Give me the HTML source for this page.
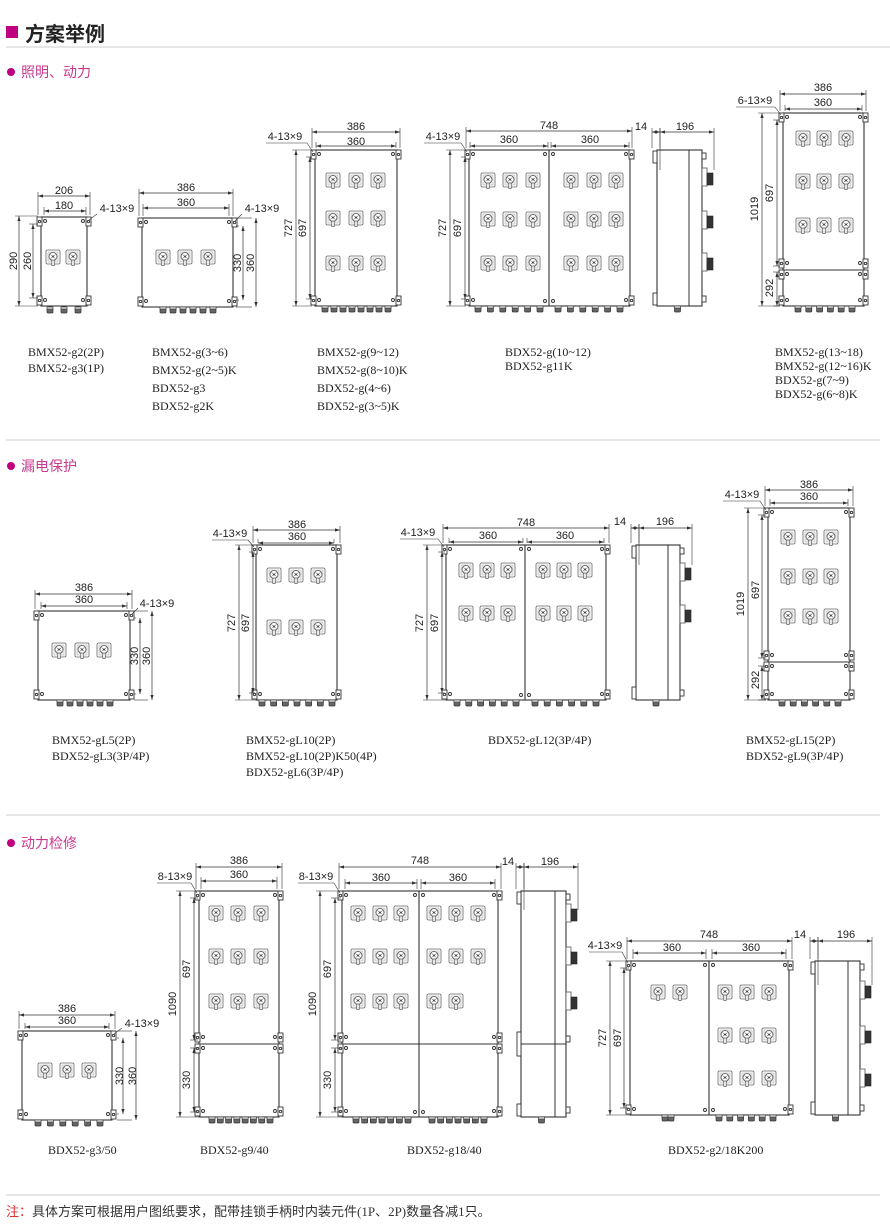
<!DOCTYPE html>
<html><head><meta charset="utf-8">
<style>
html,body{margin:0;padding:0;background:#fff;}
svg{display:block;}
.d{font-family:"Liberation Sans",sans-serif;font-size:11px;fill:#222;}
.l{font-family:"Liberation Serif",serif;font-size:12px;fill:#222;}
.s{font-family:"Liberation Sans","Noto Sans CJK SC",sans-serif;font-size:14px;fill:#c8388f;}
</style></head><body>
<svg id="s" width="890" height="1227" viewBox="0 0 890 1227" xmlns="http://www.w3.org/2000/svg">
<g id="g" stroke="#333" stroke-width="0.9" fill="none"></g>
<rect x="6" y="26" width="12" height="12" fill="#c0007f"/>
<text x="25" y="41" style="font-family:'Liberation Sans','Noto Sans CJK SC',sans-serif;font-size:20px;font-weight:bold;fill:#222">方案举例</text>
<line x1="6" y1="47" x2="890" y2="47" stroke="#ccc" stroke-width="1"/>
<circle cx="11" cy="72" r="4" fill="#c0007f"/><text class="s" x="21" y="77">照明、动力</text>
<line x1="6" y1="440" x2="880" y2="440" stroke="#ccc"/>
<circle cx="11" cy="466" r="4" fill="#c0007f"/><text class="s" x="21" y="471">漏电保护</text>
<line x1="6" y1="815" x2="880" y2="815" stroke="#ccc"/>
<circle cx="11" cy="843" r="4" fill="#c0007f"/><text class="s" x="21" y="848">动力检修</text>
<line x1="6" y1="1195" x2="880" y2="1195" stroke="#ccc"/>
<text x="6" y="1216" style="font-family:'Liberation Serif','Noto Sans CJK SC',serif;font-size:13px;fill:#333"><tspan fill="#e03030">注：</tspan>具体方案可根据用户图纸要求，配带挂锁手柄时内装元件(1P、2P)数量各减1只。</text>

<g class="d" text-anchor="middle">
<text x="64" y="194">206</text><text x="64" y="209">180</text>
<text transform="translate(17,261) rotate(-90)">290</text><text transform="translate(31,261) rotate(-90)">260</text>
<text x="117" y="212">4-13×9</text>
<text x="186" y="191">386</text><text x="186" y="206">360</text>
<text transform="translate(241,263) rotate(-90)">330</text><text transform="translate(254,263) rotate(-90)">360</text>
<text x="262" y="212">4-13×9</text>
<text x="356" y="130">386</text><text x="356" y="145">360</text>
<text x="285" y="140">4-13×9</text>
<text transform="translate(292,228) rotate(-90)">727</text><text transform="translate(306,228) rotate(-90)">697</text>
<text x="549" y="129">748</text><text x="509" y="143">360</text><text x="590" y="143">360</text>
<text x="443" y="140">4-13×9</text>
<text transform="translate(446,228) rotate(-90)">727</text><text transform="translate(461,228) rotate(-90)">697</text>
<text x="641" y="130">14</text><text x="685" y="130">196</text>
<text x="823" y="91">386</text><text x="823" y="106">360</text>
<text x="755" y="104">6-13×9</text>
<text transform="translate(758,209) rotate(-90)">1019</text><text transform="translate(773,193) rotate(-90)">697</text>
<text transform="translate(773,288) rotate(-90)">292</text>
</g>
<g class="l">
<text x="28" y="356">BMX52-g2(2P)</text><text x="28" y="372">BMX52-g3(1P)</text>
<text x="152" y="356">BMX52-g(3~6)</text><text x="152" y="374">BMX52-g(2~5)K</text><text x="152" y="392">BDX52-g3</text><text x="152" y="410">BDX52-g2K</text>
<text x="317" y="356">BMX52-g(9~12)</text><text x="317" y="374">BMX52-g(8~10)K</text><text x="317" y="392">BDX52-g(4~6)</text><text x="317" y="410">BDX52-g(3~5)K</text>
<text x="505" y="356">BDX52-g(10~12)</text><text x="505" y="370">BDX52-g11K</text>
<text x="775" y="356">BMX52-g(13~18)</text><text x="775" y="370">BMX52-g(12~16)K</text><text x="775" y="384">BDX52-g(7~9)</text><text x="775" y="398">BDX52-g(6~8)K</text>
</g>
<g class="d" text-anchor="middle">
<text x="84" y="591">386</text><text x="84" y="603">360</text><text x="157" y="607">4-13×9</text>
<text transform="translate(138,656) rotate(-90)">330</text><text transform="translate(150,656) rotate(-90)">360</text>
<text x="297" y="528">386</text><text x="297" y="540">360</text><text x="230" y="537">4-13×9</text>
<text transform="translate(235,623) rotate(-90)">727</text><text transform="translate(249,623) rotate(-90)">697</text>
<text x="526" y="526">748</text><text x="488" y="539">360</text><text x="565" y="539">360</text><text x="418" y="536">4-13×9</text>
<text transform="translate(423,623) rotate(-90)">727</text><text transform="translate(438,623) rotate(-90)">697</text>
<text x="620" y="525">14</text><text x="665" y="525">196</text>
<text x="809" y="488">386</text><text x="809" y="500">360</text><text x="742" y="498">4-13×9</text>
<text transform="translate(744,604) rotate(-90)">1019</text><text transform="translate(759,590) rotate(-90)">697</text>
<text transform="translate(759,680) rotate(-90)">292</text>
</g>
<g class="l">
<text x="52" y="744">BMX52-gL5(2P)</text><text x="52" y="760">BDX52-gL3(3P/4P)</text>
<text x="246" y="744">BMX52-gL10(2P)</text><text x="246" y="760">BMX52-gL10(2P)K50(4P)</text><text x="246" y="776">BDX52-gL6(3P/4P)</text>
<text x="488" y="744">BDX52-gL12(3P/4P)</text>
<text x="746" y="744">BMX52-gL15(2P)</text><text x="746" y="760">BDX52-gL9(3P/4P)</text>
</g>
<g class="d" text-anchor="middle">
<text x="67" y="1012">386</text><text x="67" y="1024">360</text><text x="142" y="1027">4-13×9</text>
<text transform="translate(123,1076) rotate(-90)">330</text><text transform="translate(136,1076) rotate(-90)">360</text>
<text x="239" y="864">386</text><text x="239" y="878">360</text><text x="175" y="880">8-13×9</text>
<text transform="translate(176,1004) rotate(-90)">1090</text><text transform="translate(190,969) rotate(-90)">697</text>
<text transform="translate(190,1080) rotate(-90)">330</text>
<text x="420" y="864">748</text><text x="381" y="881">360</text><text x="458" y="881">360</text><text x="316" y="880">8-13×9</text>
<text transform="translate(316,1004) rotate(-90)">1090</text><text transform="translate(331,969) rotate(-90)">697</text>
<text transform="translate(331,1080) rotate(-90)">330</text>
<text x="508" y="865">14</text><text x="550" y="865">196</text>
<text x="709" y="938">748</text><text x="672" y="951">360</text><text x="751" y="951">360</text><text x="605" y="949">4-13×9</text>
<text transform="translate(606,1038) rotate(-90)">727</text><text transform="translate(621,1038) rotate(-90)">697</text>
<text x="800" y="938">14</text><text x="846" y="938">196</text>
</g>
<g class="l">
<text x="48" y="1154">BDX52-g3/50</text><text x="200" y="1154">BDX52-g9/40</text>
<text x="407" y="1154">BDX52-g18/40</text><text x="668" y="1154">BDX52-g2/18K200</text>
</g>
</svg>
<script>
var G=document.getElementById('g'),h='';
function L(a,b,c,d,w){h+='<line x1="'+a+'" y1="'+b+'" x2="'+c+'" y2="'+d+'"'+(w?' stroke-width="'+w+'"':'')+'/>';}
function R(x,y,w,hh,f){h+='<rect x="'+x+'" y="'+y+'" width="'+w+'" height="'+hh+'"'+(f?' fill="'+f+'"':' fill="#fff"')+'/>';}
function C(x,y,r,f){h+='<circle cx="'+x+'" cy="'+y+'" r="'+r+'"'+(f?' fill="'+f+'"':'')+'/>';}
function ar(x,y,dir){var p;
 if(dir=='l')p=[x,y,x+5,y-1.6,x+5,y+1.6];if(dir=='r')p=[x,y,x-5,y-1.6,x-5,y+1.6];
 if(dir=='u')p=[x,y,x-1.6,y+5,x+1.6,y+5];if(dir=='d')p=[x,y,x-1.6,y-5,x+1.6,y-5];
 h+='<polygon points="'+p.join(',')+'" fill="#333" stroke="none"/>';}
function hd(x1,x2,y,e){L(x1,y,x2,y,0.7);ar(x1,y,'l');ar(x2,y,'r');L(x1,y-4,x1,e,0.6);L(x2,y-4,x2,e,0.6);}
function vd(x,y1,y2,e){L(x,y1,x,y2,0.7);ar(x,y1,'u');ar(x,y2,'d');L(x-4,y1,e,y1,0.6);L(x-4,y2,e,y2,0.6);}
function ears(x1,x2,y){R(x1-4,y-1,5,9);R(x2-1,y-1,5,9);C(x1-1.5,y+3.5,1.2);C(x2+1.5,y+3.5,1.2);C(x1+4,y+3,1.5);C(x2-4,y+3,1.5);}
function box(x1,y1,x2,y2){h+='<rect x="'+x1+'" y="'+y1+'" width="'+(x2-x1)+'" height="'+(y2-y1)+'" fill="#fff" stroke-width="1.1"/>';ears(x1,x2,y1+1);ears(x1,x2,y2-9);}
function hdiv(x1,x2,y){L(x1,y,x2,y,1.1);ears(x1,x2,y-10);ears(x1,x2,y+1);}
function vdiv(x,y1,y2){L(x,y1,x,y2,1.1);C(x-4,y1+4,1.5);C(x+4,y1+4,1.5);C(x-4,y2-5,1.5);C(x+4,y2-5,1.5);}
function sw(x,y){h+='<rect x="'+(x-7)+'" y="'+(y-7)+'" width="14" height="14" rx="1.5" fill="#fff" stroke="#666" stroke-width="0.8"/>';
 h+='<rect x="'+(x-5)+'" y="'+(y-5)+'" width="10" height="10" fill="#f2f2f2" stroke="#aaa" stroke-width="0.5"/>';
 h+='<circle cx="'+x+'" cy="'+(y-0.5)+'" r="4" fill="#fff" stroke="#555" stroke-width="0.8"/>';
 h+='<circle cx="'+x+'" cy="'+(y-0.5)+'" r="1" fill="#555" stroke="none"/>';
 L(x-2.5,y-2.5,x+2.5,y+1.5,0.5);L(x+2.5,y-2.5,x-2.5,y+1.5,0.5);
 h+='<rect x="'+(x-1.2)+'" y="'+(y+3)+'" width="2.4" height="5.5" fill="#fff" stroke="#555" stroke-width="0.7"/>';}
function sws(xs,ys,skip){ys.forEach(function(y,j){xs.forEach(function(x,i){if(!(skip&&skip(i,j)))sw(x,y);});});}
function gl(xs,y){xs.forEach(function(x){h+='<rect x="'+(x-3)+'" y="'+y+'" width="6" height="6" rx="1" fill="#666" stroke="#333" stroke-width="0.7"/>';h+='<rect x="'+(x-3)+'" y="'+y+'" width="6" height="2" fill="#ddd" stroke="#333" stroke-width="0.5"/>';});}
function glr(x1,x2,n,y){var a=[];for(var i=0;i<n;i++)a.push(x1+(x2-x1)*i/(n-1));gl(a,y);}
function side(x1,x2,xi,y1,y2,gy,hy){h+='<rect x="'+x1+'" y="'+y1+'" width="'+(x2-x1)+'" height="'+(y2-y1)+'" fill="#fff" stroke-width="1.1"/>';
 L(xi,y1,xi,y2,1);R(x1-4,y1+1,4,12);R(x1-4,y2-13,4,12);R(x2,y1+3,4,6);R(x2,y2-10,4,6);
 if(hy){L(x1,hy,x2,hy,1);R(x1-4,hy-12,4,24);R(x2,hy-8,4,6);}
 gy.forEach(function(y){h+='<rect x="'+x2+'" y="'+(y-9)+'" width="5" height="18" fill="#fff" stroke="#555" stroke-width="0.8"/>';h+='<rect x="'+(x2+5)+'" y="'+(y-4)+'" width="6" height="12" fill="#333" stroke="#222" stroke-width="0.6"/>';});
 gl([(x1+x2)/2-2],y2);}
function lead(tx,ty,x,y){L(tx,ty,x-6,ty,0.6);L(x-6,ty,x,y,0.6);}
box(41,217,87,306);hd(38,90,196,215);hd(44,86,211,215);vd(19,216,306,38);vd(33,224,298,38);sws([53,73],[257]);glr(50,78,3,307);L(89,220,97,214,0.6);
box(142,218,233,307);hd(139,233,193,216);hd(143,229,208,216);vd(243,226,300,236);vd(256,218,307,236);sws([163,185,208],[257]);glr(163,213,6,307);L(235,221,242,214,0.6);
box(315,150,397,306);hd(312,400,132,148);hd(316,396,146,148);vd(296,150,306,312);vd(310,157,299,312);sws([333,356,378],[180,218,263]);glr(325,388,8,306);lead(266,143,313,152);
box(469,150,630,306);vdiv(549,150,306);hd(466,632,131,148);hd(470,548,146,148);hd(551,629,146,148);vd(450,150,306,466);vd(465,157,299,466);
sws([488,510,533,571,594,616],[180,219,263]);glr(478,540,6,306);glr(558,620,6,306);lead(424,143,467,152);
side(657,702,689,150,306,[177,220,262]);hd(652,660,132,148);hd(660,714,132,170);
box(783,113,864,306);hdiv(783,864,270);hd(780,866,94,111);hd(785,862,109,111);vd(762,113,306,780);vd(777,120,266,780);vd(777,272,306,780);
sws([803,824,846],[138,181,225]);glr(798,852,6,306);lead(736,107,781,115);
box(38,611,130,700);hd(35,132,594,609);hd(41,127,606,609);vd(140,618,694,134);vd(152,611,700,134);sws([59,82,104],[650]);glr(60,110,6,700);L(132,614,138,608,0.6);
box(256,545,337,700);hd(253,340,530,543);hd(258,334,543,543);vd(239,545,700,255);vd(253,552,693,255);sws([274,296,318],[575,627]);glr(262,332,7,700);lead(212,540,254,547);
box(446,545,606,700);vdiv(525,545,700);hd(443,609,528,543);hd(449,523,542,543);hd(527,604,542,543);vd(427,545,700,445);vd(442,552,693,445);
sws([466,487,508,543,564,585],[570,613]);glr(457,516,6,700);glr(535,596,6,700);lead(400,539,444,547);
side(636,680,668,545,700,[572,614]);hd(631,639,528,543);hd(639,692,528,565);
box(768,508,850,700);hdiv(768,850,662);hd(765,853,490,506);hd(770,848,503,506);vd(748,508,700,766);vd(762,515,658,766);vd(762,666,700,766);
sws([788,810,831],[537,576,616]);glr(782,838,6,700);lead(723,501,766,510);
box(22,1031,112,1120);hd(19,115,1015,1029);hd(25,109,1027,1029);vd(123,1038,1114,117);vd(136,1031,1120,117);sws([45,67,89],[1070]);glr(38,100,6,1120);L(114,1034,122,1028,0.6);
box(199,891,279,1117);hdiv(199,279,1044);hd(196,282,867,889);hd(201,277,881,889);vd(180,891,1117,198);vd(194,898,1040,198);vd(194,1048,1112,198);
sws([216,238,261],[913,956,1001]);glr(212,270,8,1117);lead(157,883,197,893);
box(342,891,498,1117);hdiv(342,498,1044);vdiv(419,891,1117);hd(339,501,867,889);hd(345,417,883,889);hd(421,495,883,889);vd(320,891,1117,341);vd(335,898,1040,341);vd(335,1048,1112,341);
sws([358,380,401,434,456,478],[913,956,1001],function(i,j){return j==2&&i==5;});glr(356,408,7,1117);glr(432,484,7,1117);lead(298,883,340,893);
side(521,566,555,891,1117,[913,956,1001],1044);hd(516,524,867,889);hd(524,578,867,910);
box(630,961,789,1115);vdiv(709,961,1115);hd(627,792,941,959);hd(633,706,953,959);hd(712,786,953,959);vd(610,961,1115,629);vd(624,968,1108,629);
sws([658,680],[992]);sws([725,747,769],[992,1035,1078]);glr(719,773,6,1115);gl([665,671],1115);lead(589,952,628,963);
side(815,860,848,961,1115,[990,1035,1078]);hd(810,818,941,959);hd(818,872,941,985);
G.innerHTML=h;
</script>
</body></html>
